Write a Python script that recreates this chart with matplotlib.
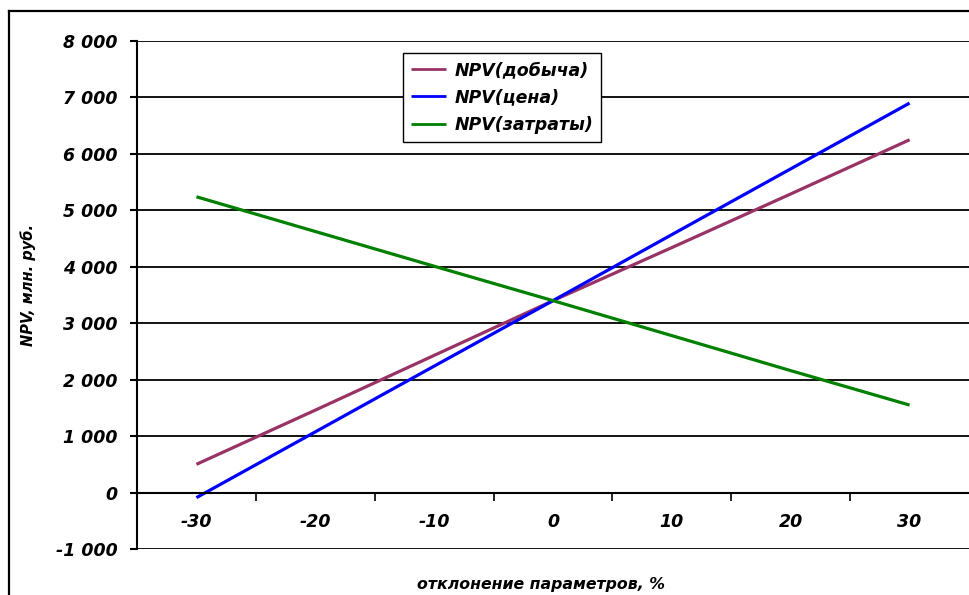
import numpy as np
import matplotlib.pyplot as plt
from matplotlib.ticker import FuncFormatter, FixedLocator

# отклонение параметров, %
deviation = [-30, -20, -10, 0, 10, 20, 30]

# NPV, млн. руб.
npv_output = [500, 1460, 2430, 3400, 4340, 5290, 6250]
npv_price = [-90, 1075, 2240, 3400, 4570, 5735, 6900]
npv_costs = [5240, 4625, 4010, 3400, 2780, 2160, 1550]

labels = ["NPV(добыча)", "NPV(цена)", "NPV(затраты)"]
colors = ["#993366", "#0000ff", "#008000"]

plt.rcParams['font.family'] = ['DejaVu Sans']
fs = 12.5

fig = plt.figure(figsize=(9.69, 5.95), dpi=100)
ax = fig.add_axes([137/969, 46/595, 832/969, 508/595])

idx = np.arange(len(deviation))
for vals, lab, col in zip([npv_output, npv_price, npv_costs], labels, colors):
    ax.plot(idx, vals, color=col, lw=2.3, label=lab, solid_capstyle='butt')

ax.set_xlim(-0.5, len(deviation) - 0.5)
ax.set_ylim(-1000, 8000)

# y axis
ax.set_yticks(np.arange(-1000, 8001, 1000))
ax.yaxis.set_major_formatter(FuncFormatter(lambda v, p: f"{int(v):,}".replace(",", " ")))
ax.tick_params(axis='y', direction='out', length=5, width=1.5, pad=9)
ax.grid(axis='y', color='black', lw=1.3)
ax.set_axisbelow(True)

# category axis crossing at 0
ax.spines['bottom'].set_position(('data', 0))
ax.spines['top'].set_visible(False)
ax.spines['right'].set_visible(False)
ax.spines['left'].set_linewidth(1.5)
ax.spines['bottom'].set_linewidth(1.5)
ax.xaxis.set_major_locator(FixedLocator(idx[:-1] + 0.5))
ax.xaxis.set_major_formatter(FuncFormatter(lambda v, p: ""))
ax.xaxis.set_minor_locator(FixedLocator(idx))
ax.xaxis.set_minor_formatter(FuncFormatter(lambda v, p: str(deviation[int(round(v))])))
ax.tick_params(axis='x', which='major', direction='out', length=6, width=1.2)
ax.tick_params(axis='x', which='minor', length=0, pad=15)

for t in ax.get_yticklabels() + ax.get_xticklabels(minor=True):
    t.set_fontsize(fs)
    t.set_fontweight('bold')
    t.set_fontstyle('italic')

leg = ax.legend(loc='upper left', bbox_to_anchor=(0.3197, 0.976), borderaxespad=0,
                fancybox=False, framealpha=1, edgecolor='black', handlelength=2.0,
                handletextpad=0.5, labelspacing=0.55, borderpad=0.45,
                prop=dict(size=fs, weight='bold', style='italic'))
leg.get_frame().set_linewidth(1.0)
for ln in leg.get_lines():
    ln.set_linewidth(2.0)

fig.text(541/969, 1 - 585/595, "отклонение параметров, %", ha='center', va='center',
         fontsize=11.3, fontweight='bold', fontstyle='italic')
fig.text(28/969, 1 - 285/595, "NPV, млн. руб.", ha='center', va='center', rotation=90,
         fontsize=10.5, fontweight='bold', fontstyle='italic')

# outer chart frame (cropped at right and bottom)
fig.add_artist(plt.Line2D([8.5/969, 8.5/969], [0, 1 - 10.5/595], color='black', lw=1.6, transform=fig.transFigure))
fig.add_artist(plt.Line2D([8.5/969, 1], [1 - 10.5/595, 1 - 10.5/595], color='black', lw=1.6, transform=fig.transFigure))

fig.savefig("out.png", dpi=100)
